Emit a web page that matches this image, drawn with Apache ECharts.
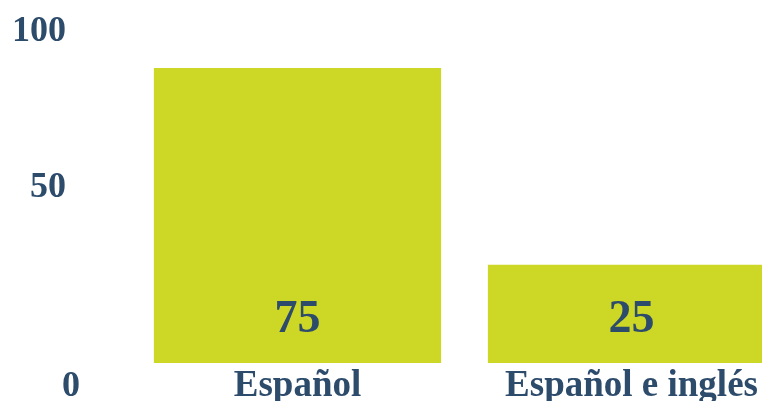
<!DOCTYPE html>
<html>
<head>
<meta charset="utf-8">
<script src="https://cdn.jsdelivr.net/npm/echarts@6/dist/echarts.min.js"></script>
<style>
  html, body { margin: 0; padding: 0; background: #ffffff; }
  #chart { width: 762px; height: 401px; }
</style>
</head>
<body>
<div id="chart"></div>
<script>
// Idioma hablado en el hogar (%)
const categories = ['Español', 'Español e inglés'];
const values = [75, 25];
const scaleTicks = [0, 50, 100];

const textColor = '#2d4b6b';
const barColor = '#cdd725';
const serif = '"Liberation Serif", "Times New Roman", serif';

const chart = echarts.init(document.getElementById('chart'), null, { renderer: 'canvas' });

chart.setOption({
  animation: false,
  grid: [
    // the bar area runs past the right edge, so the last bar is cut off
    { left: 130.5, width: 668, top: 48.3, bottom: 38, outerBoundsMode: 'none', containLabel: false },
    { left: 80, width: 10, top: 32, bottom: 14, outerBoundsMode: 'none', containLabel: false }
  ],
  xAxis: [
    {
      type: 'category',
      gridIndex: 0,
      data: categories,
      axisLine: { show: false },
      axisTick: { show: false },
      axisLabel: {
        color: textColor,
        fontFamily: serif,
        fontWeight: 'bold',
        fontSize: 37,
        margin: 5,
        interval: 0
      }
    },
    { type: 'value', gridIndex: 1, show: false }
  ],
  yAxis: [
    {
      type: 'value',
      gridIndex: 0,
      min: 0,
      max: 80,
      show: false
    },
    {
      // Escala de referencia a la izquierda
      type: 'value',
      gridIndex: 1,
      min: scaleTicks[0],
      max: scaleTicks[scaleTicks.length - 1],
      interval: scaleTicks[1] - scaleTicks[0],
      axisLine: { show: false },
      axisTick: { show: false },
      splitLine: { show: false },
      axisLabel: {
        margin: 0,
        align: 'right',
        formatter: function (v) {
          if (v === 0) return '{z|' + v + '}';
          if (v === 50) return '{m|' + v + '}';
          return '{t|' + v + '}';
        },
        rich: {
          z: { color: textColor, fontFamily: serif, fontWeight: 'bold', fontSize: 36 },
          m: { color: textColor, fontFamily: serif, fontWeight: 'bold', fontSize: 36, padding: [0, 14, 44, 0] },
          t: { color: textColor, fontFamily: serif, fontWeight: 'bold', fontSize: 36, padding: [0, 14, 0, 0] }
        }
      }
    }
  ],
  series: [
    {
      type: 'bar',
      xAxisIndex: 0,
      yAxisIndex: 0,
      data: values,
      barCategoryGap: '14%',
      itemStyle: { color: barColor },
      label: {
        show: true,
        position: 'insideBottom',
        distance: 20,
        color: textColor,
        fontFamily: serif,
        fontWeight: 'bold',
        fontSize: 46
      }
    }
  ]
});
</script>
</body>
</html>
